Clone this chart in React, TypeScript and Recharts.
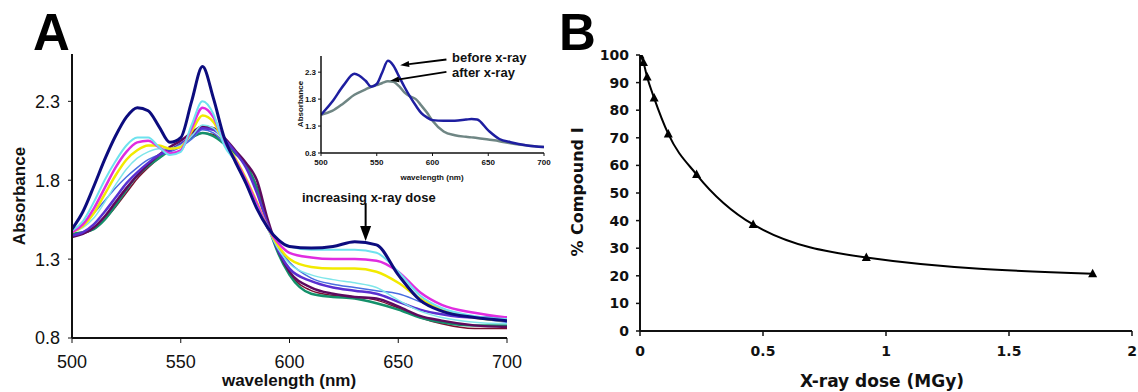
import React from 'react';
import { LineChart, Line, XAxis, YAxis, ReferenceLine } from 'recharts';

// ---------- Panel A (main) ----------
const wavelengths = [500, 505, 510, 515, 520, 525, 530, 535, 540, 545, 550, 555, 560, 565, 570, 575, 580, 585, 590, 595, 600, 610, 620, 630, 640, 650, 660, 670, 685, 700];
const navy = [1.49, 1.6, 1.76, 1.93, 2.08, 2.2, 2.26, 2.24, 2.14, 2.04, 2.07, 2.3, 2.52, 2.32, 2.07, 1.92, 1.78, 1.62, 1.5, 1.42, 1.38, 1.37, 1.38, 1.41, 1.39, 1.2, 1.04, 0.97, 0.93, 0.91];
const aqua = [1.48, 1.54, 1.66, 1.8, 1.92, 2.02, 2.07, 2.07, 2.01, 1.96, 1.98, 2.15, 2.3, 2.22, 2.02, 1.92, 1.78, 1.63, 1.5, 1.42, 1.38, 1.36, 1.36, 1.36, 1.34, 1.22, 1.07, 0.99, 0.94, 0.92];
const magenta = [1.47, 1.52, 1.62, 1.75, 1.88, 1.98, 2.04, 2.05, 2.01, 1.97, 1.99, 2.13, 2.26, 2.2, 2.04, 1.93, 1.8, 1.65, 1.5, 1.4, 1.34, 1.31, 1.3, 1.3, 1.29, 1.22, 1.09, 1.01, 0.96, 0.93];
const yellow = [1.47, 1.51, 1.59, 1.71, 1.83, 1.93, 1.99, 2.02, 2.02, 2.0, 2.01, 2.11, 2.21, 2.17, 2.04, 1.94, 1.81, 1.66, 1.5, 1.38, 1.3, 1.25, 1.24, 1.24, 1.22, 1.15, 1.05, 0.98, 0.93, 0.91];
const paleCyan = [1.47, 1.5, 1.56, 1.66, 1.77, 1.87, 1.94, 1.98, 2.0, 2.0, 2.02, 2.08, 2.15, 2.13, 2.04, 1.94, 1.8, 1.64, 1.49, 1.36, 1.27, 1.2, 1.17, 1.15, 1.12, 1.04, 0.97, 0.93, 0.9, 0.89];
const violet = [1.45, 1.47, 1.52, 1.6, 1.69, 1.78, 1.85, 1.91, 1.96, 1.99, 2.03, 2.08, 2.13, 2.12, 2.06, 1.98, 1.88, 1.72, 1.52, 1.35, 1.24, 1.16, 1.12, 1.1, 1.08, 1.03, 0.98, 0.95, 0.93, 0.93];
const plum = [1.44, 1.46, 1.5, 1.57, 1.66, 1.75, 1.83, 1.9, 1.96, 2.01, 2.05, 2.1, 2.14, 2.13, 2.07, 1.99, 1.91, 1.8, 1.55, 1.35, 1.22, 1.12, 1.08, 1.06, 1.05, 1.0, 0.94, 0.91, 0.88, 0.87];
const blue = [1.47, 1.52, 1.59, 1.67, 1.75, 1.82, 1.88, 1.93, 1.96, 1.98, 2.01, 2.06, 2.12, 2.1, 2.03, 1.92, 1.78, 1.63, 1.49, 1.37, 1.28, 1.18, 1.14, 1.12, 1.1, 1.08, 1.03, 0.98, 0.93, 0.9];
const green = [1.46, 1.47, 1.49, 1.55, 1.64, 1.74, 1.83, 1.89, 1.94, 1.99, 2.03, 2.07, 2.1, 2.08, 2.03, 1.97, 1.9, 1.75, 1.52, 1.33, 1.2, 1.08, 1.06, 1.05, 1.02, 0.98, 0.93, 0.9, 0.88, 0.88];
const maroon = [1.45, 1.46, 1.49, 1.55, 1.63, 1.72, 1.81, 1.88, 1.94, 1.99, 2.03, 2.07, 2.1, 2.09, 2.04, 1.97, 1.89, 1.76, 1.53, 1.34, 1.21, 1.1, 1.07, 1.06, 1.04, 0.99, 0.93, 0.89, 0.86, 0.86];

const absTicks = [0.8, 1.3, 1.8, 2.3];
const wlTicks = [500, 550, 600, 650, 700];

// ---------- Panel A (inset) ----------
const insetWavelengths = [500, 510, 520, 530, 540, 545, 550, 555, 560, 565, 570, 575, 580, 585, 590, 595, 600, 610, 620, 630, 635, 640, 650, 660, 670, 685, 700];
const beforeXray = [1.51, 1.75, 2.05, 2.27, 2.14, 2.03, 2.08, 2.3, 2.51, 2.42, 2.22, 2.02, 1.84, 1.68, 1.54, 1.46, 1.41, 1.4, 1.4, 1.42, 1.43, 1.42, 1.22, 1.06, 1.0, 0.94, 0.91];
const afterXray = [1.51, 1.58, 1.72, 1.88, 1.98, 2.03, 2.06, 2.1, 2.13, 2.12, 2.04, 1.92, 1.85, 1.8, 1.68, 1.55, 1.4, 1.2, 1.13, 1.1, 1.09, 1.08, 1.05, 1.02, 0.98, 0.94, 0.91];

// annotation arrows (data coordinates)
const doseArrow = [{ x: 635, y: 1.655 }, { x: 635, y: 1.415 }];
const beforeArrow = [{ x: 612.5, y: 2.535 }, { x: 571, y: 2.43 }];
const afterArrow = [{ x: 612.5, y: 2.305 }, { x: 562, y: 2.14 }];

// ---------- Panel B ----------
const dose = [0, 0.014, 0.029, 0.0575, 0.115, 0.23, 0.46, 0.92, 1.84];
const compoundI = [100, 97.3, 92, 84.4, 71.4, 56.7, 38.6, 26.6, 20.7];
const pctTicks = [0, 10, 20, 30, 40, 50, 60, 70, 80, 90, 100];
const doseTicks = [0, 0.5, 1, 1.5, 2];

const seriesA = [
  { key: 'maroon', values: maroon, color: '#7a1030', width: 1.5 },
  { key: 'green', values: green, color: '#14906a', width: 2.5 },
  { key: 'blue', values: blue, color: '#4a6ee0', width: 1.5 },
  { key: 'plum', values: plum, color: '#5e0a5e', width: 2.5 },
  { key: 'violet', values: violet, color: '#5a2fd0', width: 2.5 },
  { key: 'paleCyan', values: paleCyan, color: '#7fe6ea', width: 1.5 },
  { key: 'yellow', values: yellow, color: '#f2ea00', width: 2.5 },
  { key: 'magenta', values: magenta, color: '#e02ce0', width: 2.5 },
  { key: 'aqua', values: aqua, color: '#6ee2ee', width: 2 },
  { key: 'navy', values: navy, color: '#0c0c7e', width: 3 },
];

const mainData = wavelengths.map((w, i) => {
  const row: any = { w };
  seriesA.forEach((s) => { row[s.key] = s.values[i]; });
  return row;
});
const insetData = insetWavelengths.map((w, i) => ({ w, before: beforeXray[i], after: afterXray[i] }));
const bData = dose.map((d, i) => ({ d, p: compoundI[i] }));

const arrowShape = (color: string, head: number, width: number, sw: number) => (p: any) => {
  const { x1, y1, x2, y2 } = p;
  const dx = x2 - x1;
  const dy = y2 - y1;
  const len = Math.hypot(dx, dy) || 1;
  const ux = dx / len;
  const uy = dy / len;
  const bx = x2 - ux * head;
  const by = y2 - uy * head;
  const px = (-uy * width) / 2;
  const py = (ux * width) / 2;
  return (
    <g>
      <line x1={x1} y1={y1} x2={bx} y2={by} stroke={color} strokeWidth={sw} />
      <polygon points={`${x2},${y2} ${bx + px},${by + py} ${bx - px},${by - py}`} fill={color} />
    </g>
  );
};

const Triangle = (p: any) => {
  const { cx, cy, index } = p;
  if (cx == null || cy == null) return <g key={index} />;
  return <polygon key={index} points={`${cx},${cy - 5} ${cx - 4.5},${cy + 3.5} ${cx + 4.5},${cy + 3.5}`} fill="#000" />;
};

const arial = '"Liberation Sans", Arial, sans-serif';
const verdana = '"DejaVu Sans", Verdana, sans-serif';
const axisLine = { stroke: '#111', strokeWidth: 2 };

export default function App() {
  return (
    <div style={{ position: 'absolute', left: 0, top: 0, width: 1138, height: 392, background: '#fff', overflow: 'hidden' }}>
      {/* Panel A main */}
      <div style={{ position: 'absolute', left: 0, top: 0 }}>
        <LineChart width={540} height={392} data={mainData} margin={{ top: 54, right: 33, bottom: 24, left: 12 }}>
          <XAxis
            dataKey="w"
            type="number"
            domain={[500, 700]}
            ticks={wlTicks}
            allowDataOverflow
            height={30}
            axisLine={axisLine}
            tickLine={{ stroke: '#111' }}
            tickSize={5}
            tickMargin={12}
            tick={{ fontSize: 18, fill: '#111', fontFamily: arial }}
          />
          <YAxis
            type="number"
            domain={[0.8, 2.6]}
            ticks={absTicks}
            allowDataOverflow
            width={60}
            axisLine={axisLine}
            tickLine={{ stroke: '#111' }}
            tickSize={4}
            tickMargin={8}
            tickFormatter={(v: number) => v.toFixed(1)}
            tick={{ fontSize: 18, fill: '#111', fontFamily: arial }}
          />
          {seriesA.map((s) => (
            <Line
              key={s.key}
              dataKey={s.key}
              type="monotone"
              stroke={s.color}
              strokeWidth={s.width}
              dot={false}
              isAnimationActive={false}
            />
          ))}
          <ReferenceLine segment={doseArrow} shape={arrowShape('#000', 15, 11, 2)} ifOverflow="visible" />
        </LineChart>
      </div>

      {/* Panel A inset */}
      <div style={{ position: 'absolute', left: 280, top: 40 }}>
        <LineChart width={280} height={150} data={insetData} margin={{ top: 16, right: 16, bottom: 20, left: 10 }}>
          <XAxis
            dataKey="w"
            type="number"
            domain={[500, 700]}
            ticks={wlTicks}
            allowDataOverflow
            height={17}
            axisLine={{ stroke: '#111', strokeWidth: 1.5 }}
            tickLine={{ stroke: '#111' }}
            tickSize={3}
            tickMargin={3}
            tick={{ fontSize: 8, fill: '#111', fontFamily: arial, fontWeight: 'bold' }}
          />
          <YAxis
            type="number"
            domain={[0.8, 2.6]}
            ticks={absTicks}
            allowDataOverflow
            width={31}
            axisLine={{ stroke: '#111', strokeWidth: 1.5 }}
            tickLine={{ stroke: '#111' }}
            tickSize={3}
            tickMargin={2}
            tickFormatter={(v: number) => v.toFixed(1)}
            tick={{ fontSize: 8, fill: '#111', fontFamily: arial, fontWeight: 'bold' }}
          />
          <Line dataKey="after" type="monotone" stroke="#6f8684" strokeWidth={2.5} dot={false} isAnimationActive={false} />
          <Line dataKey="before" type="monotone" stroke="#1e1ea0" strokeWidth={2.5} dot={false} isAnimationActive={false} />
          <ReferenceLine segment={beforeArrow} shape={arrowShape('#000', 9, 6, 1.8)} ifOverflow="visible" />
          <ReferenceLine segment={afterArrow} shape={arrowShape('#000', 9, 6, 1.8)} ifOverflow="visible" />
        </LineChart>
      </div>

      {/* Panel B */}
      <div style={{ position: 'absolute', left: 560, top: 0 }}>
        <LineChart width={578} height={392} data={bData} margin={{ top: 55, right: 6, bottom: 31, left: 20 }}>
          <XAxis
            dataKey="d"
            type="number"
            domain={[0, 2]}
            ticks={doseTicks}
            allowDataOverflow
            height={30}
            axisLine={axisLine}
            tickLine={{ stroke: '#111', strokeWidth: 1.5 }}
            tickSize={5}
            tickMargin={10}
            tick={{ fontSize: 14, fill: '#111', fontFamily: verdana, fontWeight: 'bold' }}
          />
          <YAxis
            type="number"
            domain={[0, 100]}
            ticks={pctTicks}
            allowDataOverflow
            width={60}
            axisLine={axisLine}
            tickLine={{ stroke: '#111', strokeWidth: 1.5 }}
            tickSize={4}
            tickMargin={7}
            tick={{ fontSize: 14, fill: '#111', fontFamily: verdana, fontWeight: 'bold' }}
          />
          <Line dataKey="p" type="monotone" stroke="#000" strokeWidth={2} dot={Triangle} isAnimationActive={false} />
        </LineChart>
      </div>

      {/* Text overlay */}
      <svg width={1138} height={392} style={{ position: 'absolute', left: 0, top: 0, pointerEvents: 'none' }}>
        <text x={33} y={50} fontFamily={arial} fontWeight="bold" fontSize={51} fill="#000">A</text>
        <text x={559} y={50} fontFamily={arial} fontWeight="bold" fontSize={51} fill="#000">B</text>
        <text x={24.5} y={196} transform="rotate(-90 24.5 196)" textAnchor="middle" fontFamily={arial} fontWeight="bold" fontSize={17} fill="#111">Absorbance</text>
        <text x={289} y={386} textAnchor="middle" fontFamily={arial} fontWeight="bold" fontSize={17} fill="#111">wavelength (nm)</text>
        <text x={302} y={202} fontFamily={arial} fontWeight="bold" fontSize={13} fill="#111">increasing x-ray dose</text>
        <text x={452} y={62} fontFamily={arial} fontWeight="bold" fontSize={13} fill="#111">before x-ray</text>
        <text x={452} y={77} fontFamily={arial} fontWeight="bold" fontSize={13} fill="#111">after x-ray</text>
        <text x={302.5} y={104} transform="rotate(-90 302.5 104)" textAnchor="middle" fontFamily={arial} fontWeight="bold" fontSize={8} fill="#111">Absorbance</text>
        <text x={432} y={180} textAnchor="middle" fontFamily={arial} fontWeight="bold" fontSize={8} fill="#111">wavelength (nm)</text>
        <text x={583} y={192} transform="rotate(-90 583 192)" textAnchor="middle" fontFamily={verdana} fontWeight="bold" fontSize={16} fill="#111">% Compound I</text>
        <text x={882} y={387} textAnchor="middle" fontFamily={verdana} fontWeight="bold" fontSize={17} fill="#111">X-ray dose (MGy)</text>
      </svg>
    </div>
  );
}
